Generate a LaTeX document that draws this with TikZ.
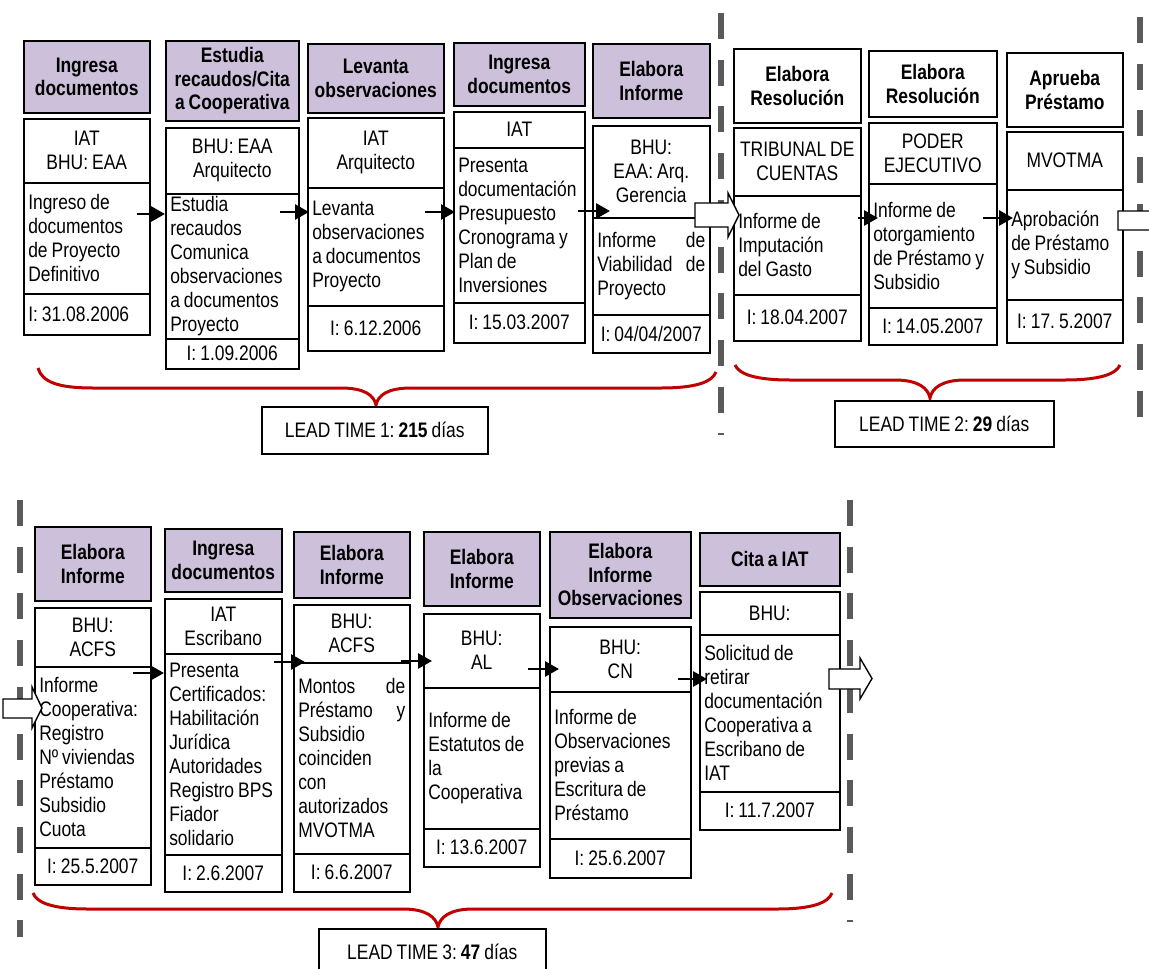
\documentclass[tikz,border=0pt]{standalone}
\usepackage{fontspec}
\setmainfont{Liberation Sans}[FakeStretch=0.83,WordSpace=0.83]
\frenchspacing
\usetikzlibrary{arrows.meta}
\definecolor{hdrfill}{RGB}{204,192,218}
\definecolor{bracered}{RGB}{192,0,0}
\definecolor{dashgray}{RGB}{90,90,90}
\newcommand\jf{\hspace{0pt plus 1filll}}
\newcommand\geo[9]{\def\Gid{#1}\def\Gx{#2}\def\Gw{#3}\def\GhA{#4}\def\GhB{#5}\def\GiA{#6}\def\GiB{#7}\def\GiC{#8}\def\GiD{#9}}
\newcommand\stp[6]{%
  \pgfmathsetmacro\hH{\GhB-\GhA}%
  \pgfmathsetmacro\aH{\GiB-\GiA}%
  \pgfmathsetmacro\bH{\GiC-\GiB}%
  \pgfmathsetmacro\dH{\GiD-\GiC}%
  \pgfmathsetmacro\tW{\Gw-9}%
  \node[hdr,#1,minimum width=\Gw,minimum height=\hH] (h\Gid) at (\Gx,\GhA) {#2};
  \node[sec,align=flush center,minimum width=\Gw,minimum height=\aH] (a\Gid) at (\Gx,\GiA) {#3};
  \node[sec,text width=\tW pt,align=flush left,minimum width=\Gw,minimum height=\bH] (b\Gid) at (\Gx,\GiB) {#4};
  \node[sec,text width=\tW pt,align=#6,minimum width=\Gw,minimum height=\dH] (d\Gid) at (\Gx,\GiC) {#5};
}
\newcommand\brc[7]{\draw[brace] (#1,#2) .. controls (#1+4,#5-6) and (#1+20,#5) .. (#1+55,#5) -- (#6-35,#5) .. controls (#6-12,#5) and (#6-2,#7-10) .. (#6,#7) .. controls (#6+2,#7-10) and (#6+12,#5) .. (#6+35,#5) -- (#3-55,#5) .. controls (#3-20,#5) and (#3-4,#5-6) .. (#3,#4);}
\tikzset{
  hdr/.style={draw, line width=1.5pt, fill=hdrfill, anchor=north west, inner sep=0pt, align=flush center, font=\bfseries\fontsize{21}{23.5}\selectfont},
  sec/.style={draw, line width=1.5pt, fill=white, anchor=north west, inner sep=0pt, font=\fontsize{21}{24}\selectfont},
  ltbox/.style={draw, line width=1.5pt, fill=white, anchor=north west, inner sep=0pt, font=\fontsize{21}{24}\selectfont},
  sepline/.style={draw=dashgray, line width=6.5pt, dash pattern=on 26pt off 20.7pt},
  brace/.style={draw=bracered, line width=3pt},
  sarrow/.style={line width=2.8pt, -{Triangle[length=14pt,width=15pt]}},
  barrow/.style={draw, line width=1.4pt, fill=white, line join=miter},
}
\begin{document}
\begin{tikzpicture}[x=1pt,y=-1pt]
\useasboundingbox (0,0) rectangle (1149,969);
% separators
\draw[sepline] (721,13) -- (721,435);
\draw[sepline] (1140,17) -- (1140,417);
\draw[sepline] (20,500) -- (20,937);
\draw[sepline] (850,500) -- (850,922);
% top row
\geo{1}{23}{126}{40}{112}{118}{182}{293}{334}
\stp{}{Ingresa\\documentos}{IAT\\BHU: EAA}{Ingreso de\\documentos\\de Proyecto\\Definitivo}{I: 31.08.2006}{flush left}
\geo{2}{165}{133}{40}{120}{127}{193}{338}{368}
\stp{}{Estudia\\recaudos/Cita\\a Cooperativa}{BHU: EAA\\Arquitecto}{Estudia\\recaudos\\Comunica\\observaciones\\a documentos\\Proyecto}{I: 1.09.2006}{flush center}
\geo{3}{307}{136}{43}{112}{117}{187}{305}{350}
\stp{}{Levanta\\observaciones}{IAT\\Arquitecto}{Levanta\\observaciones\\a documentos\\Proyecto}{I: 6.12.2006}{flush center}
\geo{4}{453}{131}{42}{105}{111}{147}{302}{342}
\stp{}{Ingresa\\documentos}{IAT}{Presenta\\documentación\\Presupuesto\\Cronograma y\\Plan de\\Inversiones}{I: 15.03.2007}{flush center}
\geo{5}{592}{117}{43}{117}{125}{217}{314}{352}
\stp{}{Elabora\\Informe}{BHU:\\EAA: Arq.\\Gerencia}{Informe\jf de\\Viabilidad\jf de\\Proyecto}{I: 04/04/2007}{flush center}
\geo{6}{733}{127}{48}{122}{127}{195}{294}{340}
\stp{fill=white}{Elabora\\Resolución}{TRIBUNAL DE\\CUENTAS}{Informe de\\Imputación\\del Gasto}{I: 18.04.2007}{flush center}
\geo{7}{868}{128}{50}{116}{122}{183}{307}{344}
\stp{fill=white}{Elabora\\Resolución}{PODER\\EJECUTIVO}{Informe de\\otorgamiento\\de Préstamo y\\Subsidio}{I: 14.05.2007}{flush center}
\geo{8}{1006}{116}{52}{126}{131}{189}{299}{342}
\stp{fill=white}{Aprueba\\Préstamo}{MVOTMA}{Aprobación\\de Préstamo\\y Subsidio}{I: 17. 5.2007}{flush center}
% bottom row
\geo{9}{34}{116}{526}{600}{607}{666}{847}{884}
\stp{}{Elabora\\Informe}{BHU:\\ACFS}{Informe\\Cooperativa:\\Registro\\Nº viviendas\\Préstamo\\Subsidio\\Cuota}{I: 25.5.2007}{flush center}
\geo{10}{164}{117}{528}{591}{598}{653}{854}{891}
\stp{}{Ingresa\\documentos}{IAT\\Escribano}{Presenta\\Certificados:\\Habilitación\\Jurídica\\Autoridades\\Registro BPS\\Fiador\\solidario}{I: 2.6.2007}{flush center}
\geo{11}{293}{116}{531}{597}{604}{662}{853}{891}
\stp{}{Elabora\\Informe}{BHU:\\ACFS}{Montos\jf de\\Préstamo\jf y\\Subsidio\\coinciden\\con\\autorizados\\MVOTMA}{I: 6.6.2007}{flush center}
\geo{12}{423}{116}{531}{605}{613}{687}{828}{866}
\stp{}{Elabora\\Informe}{BHU:\\AL}{Informe de\\Estatutos de\\la\\Cooperativa}{I: 13.6.2007}{flush center}
\geo{13}{549}{141}{531}{617}{626}{691}{838}{877}
\stp{}{Elabora\\Informe\\Observaciones}{BHU:\\CN}{Informe de\\Observaciones\\previas a\\Escritura de\\Préstamo}{I: 25.6.2007}{flush center}
\geo{14}{699}{140}{532}{585}{591}{634}{791}{829}
\stp{}{Cita a IAT}{BHU:}{Solicitud de\\retirar\\documentación\\Cooperativa a\\Escribano de\\IAT}{I: 11.7.2007}{flush center}
% braces and lead times
\brc{38}{368}{716}{372}{388}{376}{405}
\brc{735}{365}{1120}{365}{380}{930}{398}
\brc{33}{893}{832}{893}{909}{438}{927}
\node[ltbox,minimum width=226,minimum height=47] (lt1) at (261,406) {LEAD TIME 1: \textbf{215} días};
\node[ltbox,minimum width=219,minimum height=46] (lt2) at (834,400) {LEAD TIME 2: \textbf{29} días};
\node[ltbox,minimum width=227,minimum height=47] (lt3) at (318,928) {LEAD TIME 3: \textbf{47} días};
% block arrows
\draw[barrow] (695,203) -- (728,203) -- (728,193) -- (739,215) -- (728,237) -- (728,227) -- (695,227) -- cycle;
\draw[barrow] (1118,211) -- (1155,211) -- (1155,200) -- (1168,220) -- (1155,240) -- (1155,230) -- (1118,230) -- cycle;
\draw[barrow] (829,669) -- (860,669) -- (860,658) -- (872,678.5) -- (860,699) -- (860,689) -- (829,689) -- cycle;
\draw[barrow] (3,699) -- (32,699) -- (32,687) -- (42,708) -- (32,728) -- (32,718) -- (3,718) -- cycle;
% small arrows
\coordinate (s1) at (137,214); \coordinate (e1) at (165,214);
\coordinate (s2) at (280,212); \coordinate (e2) at (309,212);
\coordinate (s3) at (425,212); \coordinate (e3) at (455,212);
\coordinate (s4) at (578,211); \coordinate (e4) at (610,211);
\coordinate (s6) at (858,218); \coordinate (e6) at (878,218);
\coordinate (s7) at (983,218); \coordinate (e7) at (1013,218);
\coordinate (s9) at (133,673); \coordinate (e9) at (164,673);
\coordinate (s10) at (274,662); \coordinate (e10) at (305,662);
\coordinate (s11) at (401,661); \coordinate (e11) at (432,661);
\coordinate (s12) at (528,669); \coordinate (e12) at (559,669);
\coordinate (s13) at (678,679); \coordinate (e13) at (707,679);
\foreach \i in {1,2,3,4,6,7,9,10,11,12,13} {\draw[sarrow] (s\i) -- (e\i);}
\end{tikzpicture}
\end{document}
